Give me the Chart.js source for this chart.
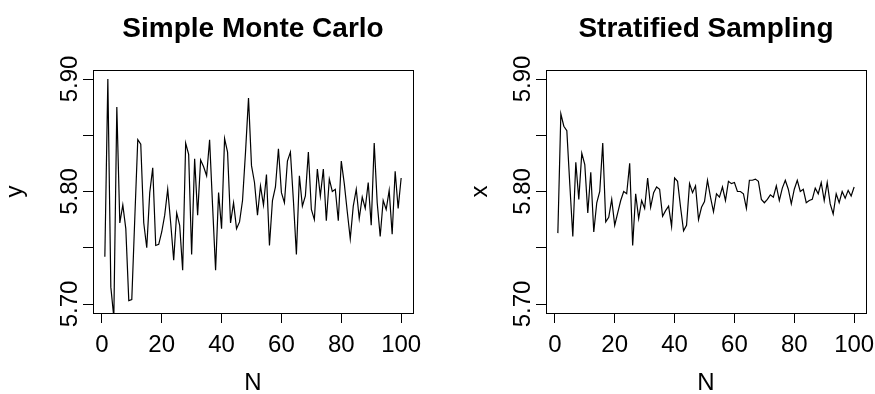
<!DOCTYPE html>
<html>
<head>
<meta charset="utf-8">
<script src="https://cdn.jsdelivr.net/npm/chart.js@4.4.1/dist/chart.umd.min.js"></script>
<style>
  html, body { margin: 0; padding: 0; background: #fff; overflow: hidden; }
  body { width: 875px; height: 394px; position: relative; }
  canvas { position: absolute; top: 0; }
  #mcChart { left: 0; }
  #ssChart { left: 453px; }
</style>
</head>
<body>
<canvas id="mcChart" width="440" height="394"></canvas>
<canvas id="ssChart" width="460" height="394"></canvas>
<script>
// sample index
const N = [1, 2, 3, 4, 5, 6, 7, 8, 9, 10, 11, 12, 13, 14, 15, 16, 17, 18, 19, 20,
  21, 22, 23, 24, 25, 26, 27, 28, 29, 30, 31, 32, 33, 34, 35, 36, 37, 38, 39, 40,
  41, 42, 43, 44, 45, 46, 47, 48, 49, 50, 51, 52, 53, 54, 55, 56, 57, 58, 59, 60,
  61, 62, 63, 64, 65, 66, 67, 68, 69, 70, 71, 72, 73, 74, 75, 76, 77, 78, 79, 80,
  81, 82, 83, 84, 85, 86, 87, 88, 89, 90, 91, 92, 93, 94, 95, 96, 97, 98, 99, 100];

// Simple Monte Carlo estimates (y)
const simpleMC = [5.742, 5.900, 5.715, 5.688, 5.875, 5.772, 5.788, 5.767, 5.703, 5.704,
  5.776, 5.846, 5.842, 5.772, 5.750, 5.799, 5.821, 5.752, 5.753, 5.764,
  5.779, 5.802, 5.772, 5.739, 5.781, 5.770, 5.730, 5.843, 5.833, 5.744,
  5.829, 5.779, 5.828, 5.822, 5.814, 5.846, 5.787, 5.730, 5.799, 5.767,
  5.847, 5.835, 5.772, 5.790, 5.767, 5.773, 5.792, 5.835, 5.883, 5.823,
  5.808, 5.779, 5.805, 5.788, 5.815, 5.752, 5.792, 5.804, 5.838, 5.799,
  5.790, 5.827, 5.835, 5.792, 5.744, 5.814, 5.787, 5.796, 5.835, 5.784,
  5.775, 5.820, 5.796, 5.820, 5.774, 5.811, 5.800, 5.802, 5.774, 5.827,
  5.807, 5.782, 5.758, 5.787, 5.802, 5.776, 5.795, 5.785, 5.808, 5.770,
  5.843, 5.790, 5.760, 5.792, 5.784, 5.801, 5.762, 5.818, 5.785, 5.812];

// Stratified sampling estimates (x)
const stratified = [5.763, 5.869, 5.858, 5.854, 5.806, 5.760, 5.826, 5.793, 5.834, 5.824,
  5.781, 5.817, 5.764, 5.790, 5.800, 5.843, 5.773, 5.777, 5.793, 5.770,
  5.781, 5.792, 5.800, 5.798, 5.825, 5.752, 5.798, 5.776, 5.792, 5.785,
  5.812, 5.786, 5.799, 5.804, 5.802, 5.778, 5.783, 5.787, 5.769, 5.812,
  5.809, 5.786, 5.765, 5.770, 5.807, 5.799, 5.805, 5.775, 5.786, 5.791,
  5.810, 5.795, 5.782, 5.798, 5.795, 5.804, 5.792, 5.809, 5.807, 5.808,
  5.800, 5.800, 5.798, 5.785, 5.810, 5.810, 5.811, 5.809, 5.793, 5.790,
  5.793, 5.797, 5.795, 5.805, 5.792, 5.803, 5.810, 5.802, 5.789, 5.802,
  5.810, 5.800, 5.802, 5.790, 5.792, 5.793, 5.803, 5.798, 5.808, 5.792,
  5.808, 5.789, 5.780, 5.798, 5.790, 5.800, 5.794, 5.801, 5.796, 5.804];

const xTicks = [0, 20, 40, 60, 80, 100];
const yTicks = [5.70, 5.75, 5.80, 5.85, 5.90];
const yTickLabels = ['5.70', '', '5.80', '', '5.90'];

Chart.defaults.font.family = '"Liberation Sans", Arial, Helvetica, sans-serif';
Chart.defaults.color = '#000';

// R style box round the plot region
const boxPlugin = {
  id: 'box',
  afterDraw(chart) {
    const { ctx, chartArea: a } = chart;
    ctx.save();
    ctx.strokeStyle = '#000';
    ctx.lineWidth = 1;
    ctx.strokeRect(Math.round(a.left) + 0.5, Math.round(a.top) + 0.5,
      Math.round(a.right - a.left), Math.round(a.bottom - a.top));
    ctx.restore();
  }
};

function makeChart(id, title, yTitle, values, rightPad, yTitlePad) {
  return new Chart(document.getElementById(id), {
    type: 'line',
    data: {
      datasets: [{
        data: N.map((n, i) => ({ x: n, y: values[i] })),
        borderColor: '#000',
        borderWidth: 1.2,
        pointRadius: 0,
        tension: 0,
        fill: false,
        clip: 0
      }]
    },
    options: {
      responsive: false,
      animation: false,
      devicePixelRatio: 1,
      events: [],
      layout: { padding: { left: 0, top: 0, bottom: 0, right: rightPad } },
      plugins: {
        legend: { display: false },
        tooltip: { enabled: false },
        title: {
          display: true,
          text: title,
          fullSize: false,
          color: '#000',
          font: { size: 28, weight: 'bold', lineHeight: 1 },
          padding: { top: 15, bottom: 27 }
        }
      },
      scales: {
        x: {
          type: 'linear',
          min: -2.96,
          max: 103.96,
          border: { display: false },
          grid: { drawOnChartArea: false, tickLength: 10, tickColor: '#000', tickWidth: 1 },
          afterBuildTicks: s => { s.ticks = xTicks.map(v => ({ value: v })); },
          afterFit: s => { s.height = 81; },
          ticks: {
            font: { size: 24 },
            color: '#000',
            padding: 8,
            maxRotation: 0,
            autoSkip: false,
            callback: v => String(v)
          },
          title: { display: true, text: 'N', color: '#000', font: { size: 24, lineHeight: 1 }, padding: { top: 0, bottom: -1 } }
        },
        y: {
          type: 'linear',
          min: 5.692,
          max: 5.908,
          border: { display: false },
          grid: { drawOnChartArea: false, tickLength: 10, tickColor: '#000', tickWidth: 1 },
          afterBuildTicks: s => { s.ticks = yTicks.map(v => ({ value: v })); },
          afterFit: s => { s.width = 93; },
          ticks: {
            font: { size: 24 },
            color: '#000',
            minRotation: 90,
            maxRotation: 90,
            crossAlign: 'center',
            padding: -11,
            autoSkip: false,
            callback: (v, i) => yTickLabels[i]
          },
          title: { display: true, text: yTitle, color: '#000', font: { size: 24, lineHeight: 1 }, padding: { top: yTitlePad, bottom: 0 } }
        }
      }
    },
    plugins: [boxPlugin]
  });
}

makeChart('mcChart', 'Simple Monte Carlo', 'y', simpleMC, 440 - 413, 3);
makeChart('ssChart', 'Stratified Sampling', 'x', stratified, 460 - 413, 15);
</script>
</body>
</html>
